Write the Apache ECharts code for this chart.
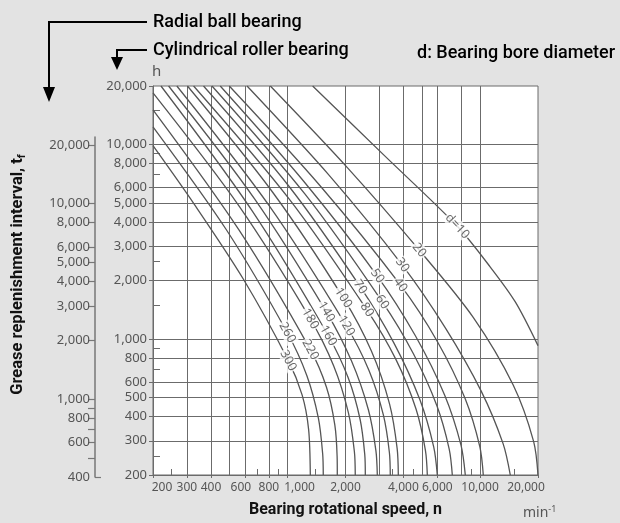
<!DOCTYPE html>
<html><head><meta charset="utf-8">
<script src="https://cdn.jsdelivr.net/npm/echarts@6/dist/echarts.min.js"></script>
<style>html,body{margin:0;padding:0;background:#e3e3e3;}#c{width:620px;height:523px;}</style>
</head><body><div id="c"></div>
<script>
// ---------- data (n in min^-1, t in h, cylindrical roller bearing scale) ----------
const boreDiameters = [10,20,30,40,50,60,70,80,100,120,140,160,180,220,260,300];
const curveD10  = [[1350,20000],[3208,8718],[7618,3800],[11304,2345],[15246,1552],[20000,925]];
const curveD20  = [[814,20000],[2056,7568],[4834,2864],[9234,1289],[14866,580],[18974,298],[20000,200]];
const curveD30  = [[616,20000],[1650,6928],[3946,2401],[6614,1139],[10138,540],[13172,290],[14357,200]];
const curveD40  = [[498,20000],[1472,6160],[3853,1897],[6018,966],[8383,492],[9972,280],[10395,200]];
const curveD50  = [[447,20000],[1210,6494],[2926,2109],[4614,1040],[6560,513],[7962,285],[8383,200]];
const curveD60  = [[405,20000],[1230,5572],[3106,1552],[4506,840],[5968,454],[6914,272],[7176,200]];
const curveD70  = [[366,20000],[1019,6086],[2388,1853],[3577,950],[4871,487],[5744,279],[5996,200]];
const curveD80  = [[325,20000],[1009,5317],[2584,1413],[3654,786],[4649,437],[5202,268],[5322,200]];
const curveD100 = [[302,20000],[835,5702],[1948,1627],[2726,868],[3389,463],[3709,274],[3762,200]];
const curveD120 = [[266,20000],[804,4836],[2019,1170],[2649,689],[3150,405],[3381,261],[3417,200]];
const curveD140 = [[241,20000],[674,5254],[1590,1380],[2147,773],[2630,433],[2877,267],[2926,200]];
const curveD160 = [[220,20000],[655,4560],[1628,1040],[2063,634],[2381,387],[2517,256],[2535,200]];
const curveD180 = [[200,18418],[559,4836],[1313,1271],[1735,730],[2070,419],[2224,264],[2248,200]];
const curveD220 = [[200,15075],[558,3648],[1313,882],[1593,565],[1760,362],[1809,250],[1813,200]];
const curveD260 = [[200,12342],[481,3648],[997,1078],[1259,650],[1446,392],[1522,257],[1533,200]];
const curveD300 = [[200,9865],[328,4922],[589,2035],[1009,775],[1190,516],[1286,344],[1313,200]];
const curves = [curveD10,curveD20,curveD30,curveD40,curveD50,curveD60,curveD70,curveD80,curveD100,curveD120,curveD140,curveD160,curveD180,curveD220,curveD260,curveD300];

const curveLabelText = ['d=10','20','30','40','50','60','70','80','100','120','140','160','180','220','260','300'];
const curveLabelN = [7618,4834,3946,3853,2926,3106,2388,2584,1948,2019,1590,1628,1313,1313,997,1009];
const curveLabelT = [3800,2864,2401,1897,2109,1552,1853,1413,1627,1170,1380,1040,1271,882,1078,775];

const xTickLabels = [200,300,400,600,800,1000,2000,4000,6000,10000,20000];
const xGridValues = [300,400,500,600,800,1000,2000,3000,4000,5000,6000,8000,10000];
const xMinorTicks = [250,700,900,1400,3500,4500,9000,15000];
const yTickLabels = [200,300,400,500,600,800,1000,2000,3000,4000,5000,6000,8000,10000,20000];
const yGridValues = [300,400,500,600,800,1000,2000,3000,4000,5000,6000,8000,10000];
const yMinorTicks = [250,700,900,1500,2500,7000,9000,15000];
const ballTickLabels = [400,600,800,1000,2000,3000,4000,5000,6000,8000,10000,20000];
const ballTicks = [500,600,700,800,900,1000,2000,3000,4000,5000,6000,8000,10000,20000];

// ---------- styling ----------
const labelRotate = [-47,-50,-54,-54,-55,-56,-56,-57,-58,-59,-59,-60,-60,-61,-61,-62];
const xLabelShift = {200:9, 1000:12, 600:-4, 20000:-12};
const tickFont = "'Noto Sans', 'DejaVu Sans', sans-serif";
const headFont = "Roboto, 'Noto Sans', sans-serif";
const gridColor = '#6b6b6b';
const textColor = '#555';
const G = {left:153, right:82, top:86, bottom:46};
const ballTop = 137;
const plotH = 523 - G.top - G.bottom;
const ballMax = 40000 / Math.pow(10, 2 * (ballTop - G.top) / plotH);

const fmt = v => Number(v).toLocaleString('en-US');
const xRich = {};
Object.keys(xLabelShift).forEach(k => {
  const s = xLabelShift[k];
  xRich['s' + k] = {padding: s > 0 ? [0,0,0,2*s] : [0,-2*s,0,0], color:textColor, fontSize:12, fontFamily:tickFont};
});

const chart = echarts.init(document.getElementById('c'), null, {renderer:'canvas'});

const lineSeries = curves.map((c, i) => ({
  type:'line', name:'d=' + boreDiameters[i], data:c, xAxisIndex:0, yAxisIndex:0,
  symbol:'none', smooth:0.3, clip:true, silent:true, z:3,
  lineStyle:{color:'#555', width:1.3}
}));
const labelSeries = {
  type:'scatter', xAxisIndex:0, yAxisIndex:0, symbolSize:0, silent:true, z:5,
  data: curveLabelN.map((n,i) => ({value:[n, curveLabelT[i]],
    label:{show:true, position:'inside', rotate:labelRotate[i], formatter:curveLabelText[i]}})),
  label:{color:'#444', fontSize:12.5, fontFamily:tickFont, backgroundColor:'#fff', padding:[0,1]}
};

const logX = extra => Object.assign({gridIndex:0, type:'log', logBase:10, min:200, max:20000, position:'bottom',
  axisLine:{show:false}, axisLabel:{show:false}, axisTick:{show:false}, splitLine:{show:false}}, extra);
const logY = extra => Object.assign({gridIndex:0, type:'log', logBase:10, min:200, max:20000, position:'left',
  axisLine:{show:false}, axisLabel:{show:false}, axisTick:{show:false}, splitLine:{show:false}}, extra);

chart.setOption({
  animation:false,
  backgroundColor:'#e3e3e3',
  grid:[
    Object.assign({show:true, backgroundColor:'#fff', borderColor:gridColor, borderWidth:1}, G),
    {left:95, width:1, top:ballTop, bottom:G.bottom}
  ],
  xAxis:[
    logX({
      axisLine:{show:true, lineStyle:{color:gridColor}},
      axisTick:{show:true, customValues:xTickLabels, length:3, lineStyle:{color:gridColor}},
      axisLabel:{show:true, customValues:xTickLabels, margin:7, color:textColor, fontSize:12, fontFamily:tickFont,
        formatter: v => xLabelShift[v] !== undefined ? '{s' + v + '|' + fmt(v) + '}' : fmt(v), rich:xRich},
      name:'Bearing rotational speed, n', nameLocation:'middle', nameGap:27,
      nameTextStyle:{color:'#111', fontSize:16, fontWeight:'bold', fontFamily:headFont}
    }),
    logX({axisTick:{show:false, customValues:xGridValues}, splitLine:{show:true, lineStyle:{color:gridColor, width:1}}}),
    logX({axisTick:{show:true, inside:true, length:6, customValues:xMinorTicks, lineStyle:{color:gridColor}}}),
    {gridIndex:1, type:'value', show:false}
  ],
  yAxis:[
    logY({
      axisLine:{show:true, lineStyle:{color:gridColor}},
      axisTick:{show:true, customValues:yTickLabels, length:4, lineStyle:{color:gridColor}},
      axisLabel:{show:true, customValues:yTickLabels, margin:6, color:textColor, fontSize:13, fontFamily:tickFont, formatter:fmt},
      name:'h', nameLocation:'end', nameGap:4,
      nameTextStyle:{align:'left', color:textColor, fontSize:15, fontFamily:tickFont, padding:[0,0,0,-1]}
    }),
    logY({
      axisTick:{show:false, customValues:yGridValues}, splitLine:{show:true, lineStyle:{color:gridColor, width:1}},
      name:'{a|Grease replenishment interval, t}{s|f}', nameLocation:'middle', nameGap:125, nameRotate:90,
      nameTextStyle:{padding:[0,0,0,12], rich:{
        a:{color:'#111', fontSize:16.5, fontWeight:'bold', fontFamily:headFont},
        s:{color:'#111', fontSize:11, fontWeight:'bold', fontFamily:headFont, padding:[10,0,0,0]}
      }}
    }),
    logY({axisTick:{show:true, inside:true, length:7, customValues:yMinorTicks, lineStyle:{color:gridColor}}}),
    {gridIndex:1, type:'log', logBase:10, min:400, max:ballMax, position:'left',
      axisLine:{show:true, lineStyle:{color:'#777', width:1.5}},
      axisTick:{show:true, length:7, customValues:ballTicks, lineStyle:{color:'#777', width:1.2}},
      axisLabel:{show:true, customValues:ballTickLabels, margin:5, color:textColor, fontSize:13, fontFamily:tickFont, formatter:fmt},
      splitLine:{show:false}},
    {gridIndex:1, type:'log', logBase:10, min:400, max:ballMax, position:'left',
      axisLine:{show:false}, axisLabel:{show:false}, splitLine:{show:false},
      axisTick:{show:true, inside:true, length:6, customValues:[400], lineStyle:{color:'#777', width:1.2}}}
  ],
  graphic:[
    {type:'polyline', shape:{points:[[147,22],[49,22],[49,90]]}, style:{stroke:'#000', lineWidth:2, fill:null}},
    {type:'polygon', shape:{points:[[43,87],[55,87],[49,102]]}, style:{fill:'#000'}},
    {type:'polyline', shape:{points:[[147,50],[117,50],[117,59]]}, style:{stroke:'#000', lineWidth:2, fill:null}},
    {type:'polygon', shape:{points:[[111,57],[123,57],[117,70]]}, style:{fill:'#000'}},
    {type:'text', x:153, y:22, style:{text:'Radial ball bearing', font:'500 18px ' + headFont, fill:'#000', textVerticalAlign:'middle'}},
    {type:'text', x:153, y:50, style:{text:'Cylindrical roller bearing', font:'500 18px ' + headFont, fill:'#000', textVerticalAlign:'middle'}},
    {type:'text', x:417, y:53, style:{text:'d: Bearing bore diameter', font:'500 18px ' + headFont, fill:'#000', textVerticalAlign:'middle'}},
    {type:'text', x:523, y:513, style:{text:'{a|min}{b|-1}', rich:{a:{fontSize:14, fontFamily:tickFont, fill:'#555'}, b:{fontSize:9, fontFamily:tickFont, fill:'#555', padding:[0,0,8,0]}}, textVerticalAlign:'middle'}}
  ],
  series: lineSeries.concat([labelSeries])
});
</script></body></html>
